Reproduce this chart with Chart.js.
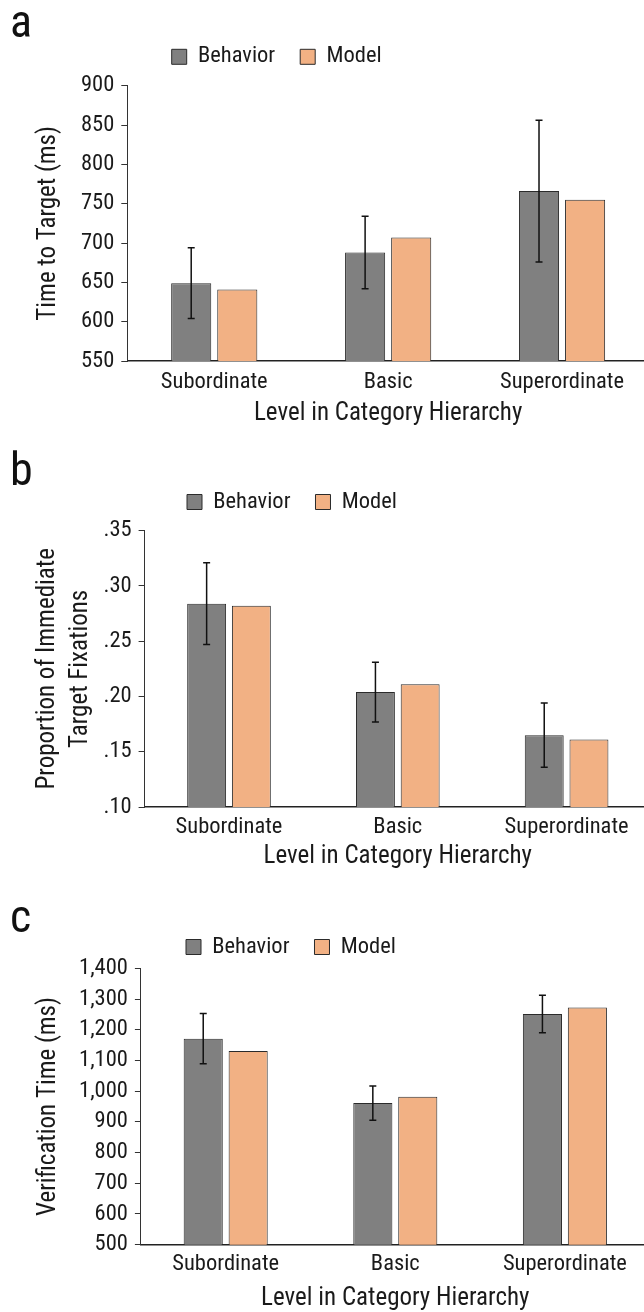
<!DOCTYPE html>
<html>
<head>
<meta charset="utf-8">
<script src="https://cdn.jsdelivr.net/npm/chart.js@4.4.1/dist/chart.umd.min.js"></script>
<style>
  html, body { margin: 0; padding: 0; width: 644px; height: 1312px; overflow: hidden; background: #fff; }
  canvas { position: absolute; left: 0; }
  .letter {
    position: absolute; left: 10px;
    font-family: 'Roboto Condensed', Roboto, sans-serif;
    font-size: 46px; line-height: 46px; color: #111;
  }
</style>
</head>
<body>
<canvas id="chartA" width="652" height="440" style="top:0px"></canvas>
<canvas id="chartB" width="652" height="435" style="top:440px"></canvas>
<canvas id="chartC" width="652" height="443" style="top:872px"></canvas>
<div class="letter" style="top:-2px">a</div>
<div class="letter" style="top:446px">b</div>
<div class="letter" style="top:893px">c</div>
<script>
const categories = ['Subordinate', 'Basic', 'Superordinate'];

// a: time to target (ms)
const timeBehavior = [649, 688, 766];
const timeModel = [641, 707, 755];
const timeError = [45, 46, 90];
const timeTicks = [550, 900, 50];

// b: proportion of immediate target fixations
const fixBehavior = [0.284, 0.204, 0.165];
const fixModel = [0.282, 0.211, 0.161];
const fixError = [0.037, 0.027, 0.029];
const fixTicks = [0.10, 0.35, 0.05];

// c: verification time (ms)
const verBehavior = [1171, 961, 1251];
const verModel = [1131, 982, 1272];
const verError = [82, 56, 61];
const verTicks = [500, 1400, 100];

const behaviorColor = '#808080';
const modelColor = '#F2B184';
const inkColor = '#1a1a1a';
const labelSize = 22.5;
const titleSize = 25;

Chart.defaults.font.family = "'Roboto Condensed', Roboto, sans-serif";
Chart.defaults.color = inkColor;

// put the legend where the figure has it, after the layout is done
const legendPos = {
  id: 'legendPos',
  afterLayout(chart, args, opts) {
    const lg = chart.legend;
    const pad = lg.options.labels.padding;
    lg.left = opts.x - pad;
    lg.right = lg.left + 600;
    lg.top = opts.y - pad - labelSize / 2;
    lg.bottom = lg.top + lg.height;
  }
};

// error bars on the behavior series
const errorBars = {
  id: 'errorBars',
  afterDatasetsDraw(chart, args, opts) {
    const meta = chart.getDatasetMeta(0);
    const ys = chart.scales.y;
    const vals = chart.data.datasets[0].data;
    const ctx = chart.ctx;
    ctx.save();
    ctx.strokeStyle = '#111';
    ctx.lineWidth = 1.5;
    meta.data.forEach((bar, i) => {
      const top = ys.getPixelForValue(vals[i] + opts.errors[i]);
      const bot = ys.getPixelForValue(vals[i] - opts.errors[i]);
      ctx.beginPath();
      ctx.moveTo(bar.x, top); ctx.lineTo(bar.x, bot);
      ctx.moveTo(bar.x - 3.5, top); ctx.lineTo(bar.x + 3.5, top);
      ctx.moveTo(bar.x - 3.5, bot); ctx.lineTo(bar.x + 3.5, bot);
      ctx.stroke();
    });
    ctx.restore();
  }
};

function makeChart(id, cfg) {
  const bar = (label, data, color) => ({
    label: label,
    data: data,
    backgroundColor: color,
    borderColor: '#2b2b2b',
    borderWidth: 1,
    categoryPercentage: 0.53,
    barPercentage: 0.87
  });
  return new Chart(document.getElementById(id), {
    type: 'bar',
    data: {
      labels: categories,
      datasets: [
        bar('Behavior', cfg.behavior, behaviorColor),
        bar('Model', cfg.model, modelColor)
      ]
    },
    options: {
      responsive: false,
      animation: false,
      layout: { padding: cfg.pad },
      plugins: {
        legend: {
          position: 'top',
          align: 'start',
          labels: { boxWidth: 15, boxHeight: 15, padding: 25, font: { size: labelSize }, color: inkColor }
        },
        tooltip: { enabled: false },
        legendPos: cfg.legend,
        errorBars: { errors: cfg.errors }
      },
      scales: {
        x: {
          grid: { display: false, drawTicks: false },
          border: { color: '#222', width: 1.5 },
          ticks: { font: { size: labelSize }, padding: cfg.labelPad, color: inkColor },
          title: { display: true, text: 'Level in Category Hierarchy', font: { size: titleSize }, padding: 0, color: inkColor },
          afterFit: (s) => { s.height = cfg.xHeight; }
        },
        y: {
          min: cfg.ticks[0],
          max: cfg.ticks[1],
          ticks: { stepSize: cfg.ticks[2], autoSkip: false, font: { size: labelSize }, padding: 7, color: inkColor, callback: cfg.format },
          grid: { drawOnChartArea: false, drawTicks: true, tickLength: 6, color: '#333' },
          border: { color: '#333', width: 1 },
          title: { display: true, text: cfg.yTitle, font: { size: titleSize, lineHeight: 1.32 }, padding: 0, color: inkColor },
          afterFit: (s) => { s.width = cfg.yWidth; }
        }
      }
    },
    plugins: [legendPos, errorBars]
  });
}

makeChart('chartA', {
  behavior: timeBehavior, model: timeModel, errors: timeError, ticks: timeTicks,
  format: (v) => v,
  yTitle: 'Time to Target (ms)',
  pad: { top: 28.2, left: 32.5, right: 3, bottom: 11.5 },
  yWidth: 94.8, xHeight: 67.5, labelPad: 8,
  legend: { x: 171.7, y: 56.8 }
});

makeChart('chartB', {
  behavior: fixBehavior, model: fixModel, errors: fixError, ticks: fixTicks,
  format: (v) => v.toFixed(2).replace(/^0/, ''),
  yTitle: ['Proportion of Immediate', 'Target Fixations'],
  pad: { top: 33.2, left: 31.5, right: 1, bottom: 3.5 },
  yWidth: 113.1, xHeight: 64.5, labelPad: 7,
  legend: { x: 187, y: 62 }
});

makeChart('chartC', {
  behavior: verBehavior, model: verModel, errors: verError, ticks: verTicks,
  format: (v) => v.toLocaleString('en-US'),
  yTitle: 'Verification Time (ms)',
  pad: { top: 38.8, left: 32.5, right: 2.3, bottom: 1 },
  yWidth: 108.4, xHeight: 69.3, labelPad: 6,
  legend: { x: 186, y: 75 }
});
</script>
</body>
</html>
